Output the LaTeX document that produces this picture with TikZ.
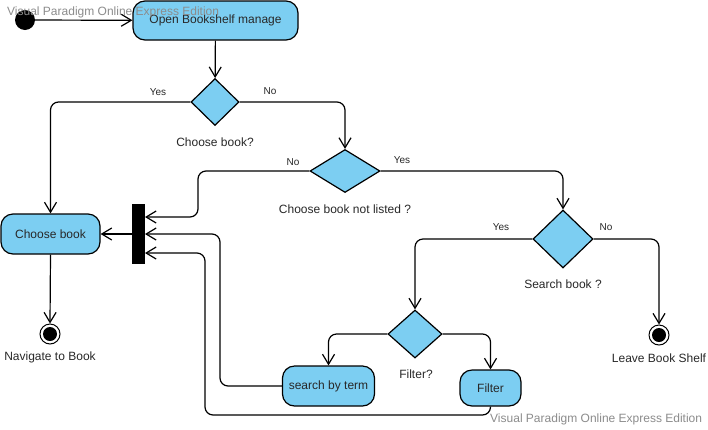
\documentclass[tikz,border=0pt]{standalone}
\usepackage{fontspec}
\setmainfont{Liberation Sans}
\usetikzlibrary{shapes.geometric,arrows.meta}
\definecolor{actfill}{RGB}{124,206,242}
\definecolor{txt}{RGB}{40,40,40}
\definecolor{wm}{RGB}{140,140,140}
\tikzset{
  actbox/.style={draw=black, fill=actfill, rounded corners=12pt, line width=1.2pt, inner sep=0pt, font=\fontsize{12}{14}\selectfont, text=txt},
  dec/.style={draw=black, fill=actfill, diamond, line width=1.2pt, inner sep=0pt},
  startnode/.style={circle, fill=black, minimum size=20pt, inner sep=0pt},
  finnode/.style={circle, draw=black, fill=white, line width=1pt, minimum size=20pt, inner sep=0pt},
  barnode/.style={fill=black, minimum width=13pt, minimum height=60pt, inner sep=0pt},
  lbl/.style={font=\fontsize{12}{14}\selectfont, text=txt, inner sep=0pt},
  yn/.style={font=\fontsize{10}{12}\selectfont, text=txt, inner sep=0pt},
  arr/.style={draw=black, line width=1.2pt, -{Straight Barb[length=10pt,width=12pt,line width=1.2pt]}},
  rc/.style={rounded corners=8pt},
  wmark/.style={font=\fontsize{12}{14}\selectfont, text=wm, inner sep=0pt}
}
\begin{document}
\begin{tikzpicture}[x=1pt,y=-1pt]
\useasboundingbox[fill=white] (0,0) rectangle (708,429);

% nodes
\node[startnode] (init) at (25,20) {};
\node[actbox, minimum width=165pt, minimum height=39pt] (open) at (215.5,20.5) {Open Bookshelf manage};
\node[dec, minimum width=48pt, minimum height=47pt] (d1) at (215,102) {};
\node[lbl] (d1l) at (215,142) {Choose book?};
\node[actbox, minimum width=99pt, minimum height=40pt] (cb) at (50.5,234) {Choose book};
\node[barnode] (bar) at (138.5,234) {};
\node[dec, minimum width=70pt, minimum height=43pt] (d2) at (345,171) {};
\node[lbl] (d2l) at (345,209) {Choose book not listed ?};
\node[dec, minimum width=60pt, minimum height=58pt] (d3) at (563,239) {};
\node[lbl] (d3l) at (563,284) {Search book ?};
\node[dec, minimum width=54pt, minimum height=48pt] (d4) at (415,334) {};
\node[lbl] (d4l) at (416,374) {Filter?};
\node[actbox, minimum width=92pt, minimum height=40pt] (sbt) at (328.5,386) {search by term};
\node[actbox, minimum width=61pt, minimum height=36pt] (filt) at (490.5,388) {Filter};
\node[finnode] (nav) at (50,334) {};
\fill (nav.center) circle (7pt);
\node[lbl] (navl) at (50,357) {Navigate to Book};
\node[finnode] (leave) at (659,335) {};
\fill (leave.center) circle (7pt);
\node[lbl] (leavel) at (659,358) {Leave Book Shelf};

% yes/no labels
\node[yn] (y1) at (158,92) {Yes};
\node[yn] (n1) at (270,91) {No};
\node[yn] (n2) at (293,162) {No};
\node[yn] (y2) at (402,160) {Yes};
\node[yn] (y3) at (501,227) {Yes};
\node[yn] (n3) at (606,227) {No};

% bar entry points
\coordinate (b1) at (145,217);
\coordinate (b2) at (145,234);
\coordinate (b3) at (145,253);

% connectors
\draw[arr] (init) -- (open);
\draw[arr] (open) -- (d1);
\draw[arr,rc] (d1.west) -| (cb.north);
\draw[arr,rc] (d1.east) -| (d2.north);
\draw[arr,rc] (d2.west) -| (198,217) -- (b1);
\draw[arr,rc] (d2.east) -| (d3.north);
\draw[arr,rc] (d3.east) -| (leave.north);
\draw[arr,rc] (d3.west) -| (d4.north);
\draw[arr,rc] (d4.west) -| (sbt.north);
\draw[arr,rc] (d4.east) -| (filt.north);
\draw[arr,rc] (sbt.west) -| (220,234) -- (b2);
\draw[arr,rc] (filt.south) |- (205,415) -- (205,253) -- (b3);
\draw[arr] (bar.west) -- (cb.east);
\draw[arr] (cb.south) -- (nav.north);

% watermarks
\node[wmark, anchor=west] (wm1) at (7,12) {Visual Paradigm Online Express Edition};
\node[wmark, anchor=west] (wm2) at (490,419) {Visual Paradigm Online Express Edition};
\end{tikzpicture}
\end{document}
